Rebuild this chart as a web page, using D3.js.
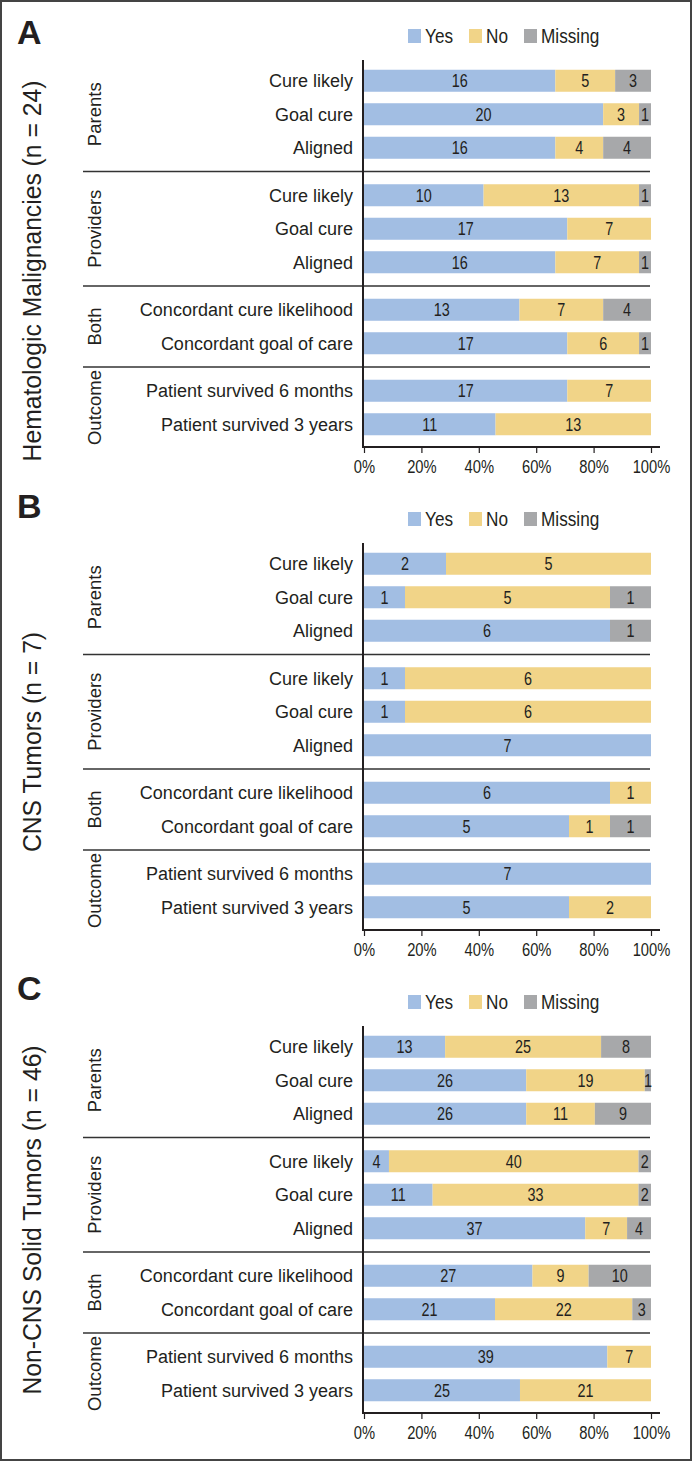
<!DOCTYPE html>
<html>
<head>
<meta charset="utf-8">
<script src="https://cdn.jsdelivr.net/npm/d3@7"></script>
<style>
  body { margin: 0; background: #fff; }
  svg { display: block; }
</style>
</head>
<body>
<svg id="chart"></svg>
<script>
// Row labels, groups and legend keys
const categories = ["Cure likely", "Goal cure", "Aligned", "Cure likely", "Goal cure", "Aligned",
  "Concordant cure likelihood", "Concordant goal of care", "Patient survived 6 months", "Patient survived 3 years"];
const groupNames = ["Parents", "Providers", "Both", "Outcome"];
const rowGroup = [0, 0, 0, 1, 1, 1, 2, 2, 3, 3];
const seriesNames = ["Yes", "No", "Missing"];
const tickValues = [0, 0.2, 0.4, 0.6, 0.8, 1];
const panelLetters = ["A", "B", "C"];
const panelTitles = ["Hematologic Malignancies (n = 24)", "CNS Tumors (n = 7)", "Non-CNS Solid Tumors (n = 46)"];

// Counts per row
const hemYes = [16, 20, 16, 10, 17, 16, 13, 17, 17, 11];
const hemNo = [5, 3, 4, 13, 7, 7, 7, 6, 7, 13];
const hemMissing = [3, 1, 4, 1, 0, 1, 4, 1, 0, 0];

const cnsYes = [2, 1, 6, 1, 1, 7, 6, 5, 7, 5];
const cnsNo = [5, 5, 0, 6, 6, 0, 1, 1, 0, 2];
const cnsMissing = [0, 1, 1, 0, 0, 0, 0, 1, 0, 0];

const solidYes = [13, 26, 26, 4, 11, 37, 27, 21, 39, 25];
const solidNo = [25, 19, 11, 40, 33, 7, 9, 22, 7, 21];
const solidMissing = [8, 1, 9, 2, 2, 4, 10, 3, 0, 0];

const panelData = [
  [hemYes, hemNo, hemMissing],
  [cnsYes, cnsNo, cnsMissing],
  [solidYes, solidNo, solidMissing]
];

const svgWidth = 692, svgHeight = 1461;
const font = "'Liberation Sans', Arial, Helvetica, sans-serif";
const ink = "#231f20";

// where each panel sits
const axisYs = [447, 930, 1413];
const letterYs = [44, 518, 1000];
const titleYs = [271, 742, 1220];
const legendX = [408, 469, 524];

const svg = d3.select("#chart")
  .attr("width", svgWidth)
  .attr("height", svgHeight);

svg.append("rect")
  .attr("x", 1).attr("y", 1)
  .attr("width", svgWidth - 2).attr("height", svgHeight - 2)
  .attr("fill", "#fff")
  .attr("stroke", "#444")
  .attr("stroke-width", 2);

const x = d3.scaleLinear().domain([0, 1]).range([364, 651]);
const color = d3.scaleOrdinal().domain(seriesNames).range(["#a2bee3", "#f1d488", "#a7a8aa"]);

const stack = d3.stack().keys(seriesNames).offset(d3.stackOffsetExpand);

panelData.forEach((series, p) => {
  let ay = axisYs[p];
  let g = svg.append("g").attr("class", "panel");

  let rows = categories.map((c, i) => {
    let r = { i: i, label: c };
    seriesNames.forEach((k, j) => { r[k] = series[j][i]; });
    return r;
  });

  let band = d3.scaleBand()
    .domain(d3.range(categories.length))
    .range([0, 335])
    .paddingInner(0.343)
    .paddingOuter(0.1715);
  let top = i => ay - 383 + band(i) + rowGroup[i] * 14;
  let mid = i => top(i) + band.bandwidth() / 2;

  // panel letter
  g.append("text")
    .attr("x", 17).attr("y", letterYs[p])
    .style("font-family", font)
    .style("font-weight", "bold")
    .style("font-size", "34px")
    .attr("fill", ink)
    .text(panelLetters[p]);

  // legend
  seriesNames.forEach((k, j) => {
    g.append("rect")
      .attr("x", legendX[j]).attr("y", ay - 418)
      .attr("width", 13).attr("height", 14)
      .attr("fill", color(k));
    g.append("text")
      .attr("transform", "translate(" + (legendX[j] + 17) + "," + (ay - 404) + ") scale(0.86,1)")
      .style("font-family", font)
      .style("font-size", "20px")
      .attr("fill", ink)
      .text(k);
  });

  // rotated panel title
  g.append("text")
    .attr("transform", "translate(41," + titleYs[p] + ") rotate(-90) scale(0.95,1)")
    .style("text-anchor", "middle")
    .style("font-family", font)
    .style("font-size", "26px")
    .attr("fill", ink)
    .text(panelTitles[p]);

  // group labels + separators
  groupNames.forEach((name, gi) => {
    let idx = rowGroup.map((v, i) => v == gi ? i : -1).filter(i => i >= 0);
    let cy = (mid(idx[0]) + mid(idx[idx.length - 1])) / 2;
    g.append("text")
      .attr("transform", "translate(101," + cy + ") rotate(-90)")
      .style("text-anchor", "middle")
      .style("font-family", font)
      .style("font-size", "18.5px")
      .attr("fill", ink)
      .text(name);
    if (gi > 0) {
      let sy = (mid(idx[0] - 1) + mid(idx[0])) / 2;
      g.append("line")
        .attr("x1", 83).attr("x2", 650)
        .attr("y1", sy).attr("y2", sy)
        .attr("stroke", "#333")
        .attr("stroke-width", 1.3);
    }
  });

  // row labels
  g.selectAll(".rowlabel")
    .data(rows)
  .enter().append("text")
    .attr("class", "rowlabel")
    .attr("x", 353)
    .attr("y", d => mid(d.i))
    .attr("dy", "0.36em")
    .style("text-anchor", "end")
    .style("font-family", font)
    .style("font-size", "18px")
    .attr("fill", ink)
    .text(d => d.label);

  // stacked bars
  let layers = stack(rows);
  layers.forEach(layer => {
    let k = layer.key;
    g.selectAll(".seg-" + k)
      .data(layer)
    .enter().append("rect")
      .attr("x", d => x(d[0]))
      .attr("y", d => top(d.data.i))
      .attr("width", d => x(d[1]) - x(d[0]))
      .attr("height", band.bandwidth())
      .attr("fill", color(k));

    g.selectAll(".val-" + k)
      .data(layer.filter(d => d.data[k] > 0))
    .enter().append("text")
      .attr("transform", d => "translate(" + (x(d[0]) + x(d[1])) / 2 + "," + mid(d.data.i) + ") scale(0.8,1)")
      .attr("dy", "0.36em")
      .style("text-anchor", "middle")
      .style("font-family", font)
      .style("font-size", "18px")
      .attr("fill", ink)
      .text(d => d.data[k]);
  });

  // axes
  let xAxis = g.append("g")
    .attr("transform", "translate(0," + ay + ")")
    .call(d3.axisBottom(x)
      .tickValues(tickValues)
      .tickFormat(d3.format(".0%"))
      .tickSize(6)
      .tickSizeOuter(0));
  xAxis.select(".domain").remove();
  xAxis.selectAll(".tick line").attr("stroke", ink).attr("stroke-width", 1.2);
  xAxis.selectAll(".tick text")
    .attr("y", 13)
    .attr("transform", "scale(0.82,1)")
    .style("font-family", font)
    .style("font-size", "18px")
    .attr("fill", ink);

  g.append("line")
    .attr("x1", 362).attr("x2", 660)
    .attr("y1", ay).attr("y2", ay)
    .attr("stroke", ink)
    .attr("stroke-width", 2);
  g.append("line")
    .attr("x1", 363).attr("x2", 363)
    .attr("y1", ay - 387).attr("y2", ay + 1)
    .attr("stroke", ink)
    .attr("stroke-width", 2);
});
</script>
</body>
</html>
